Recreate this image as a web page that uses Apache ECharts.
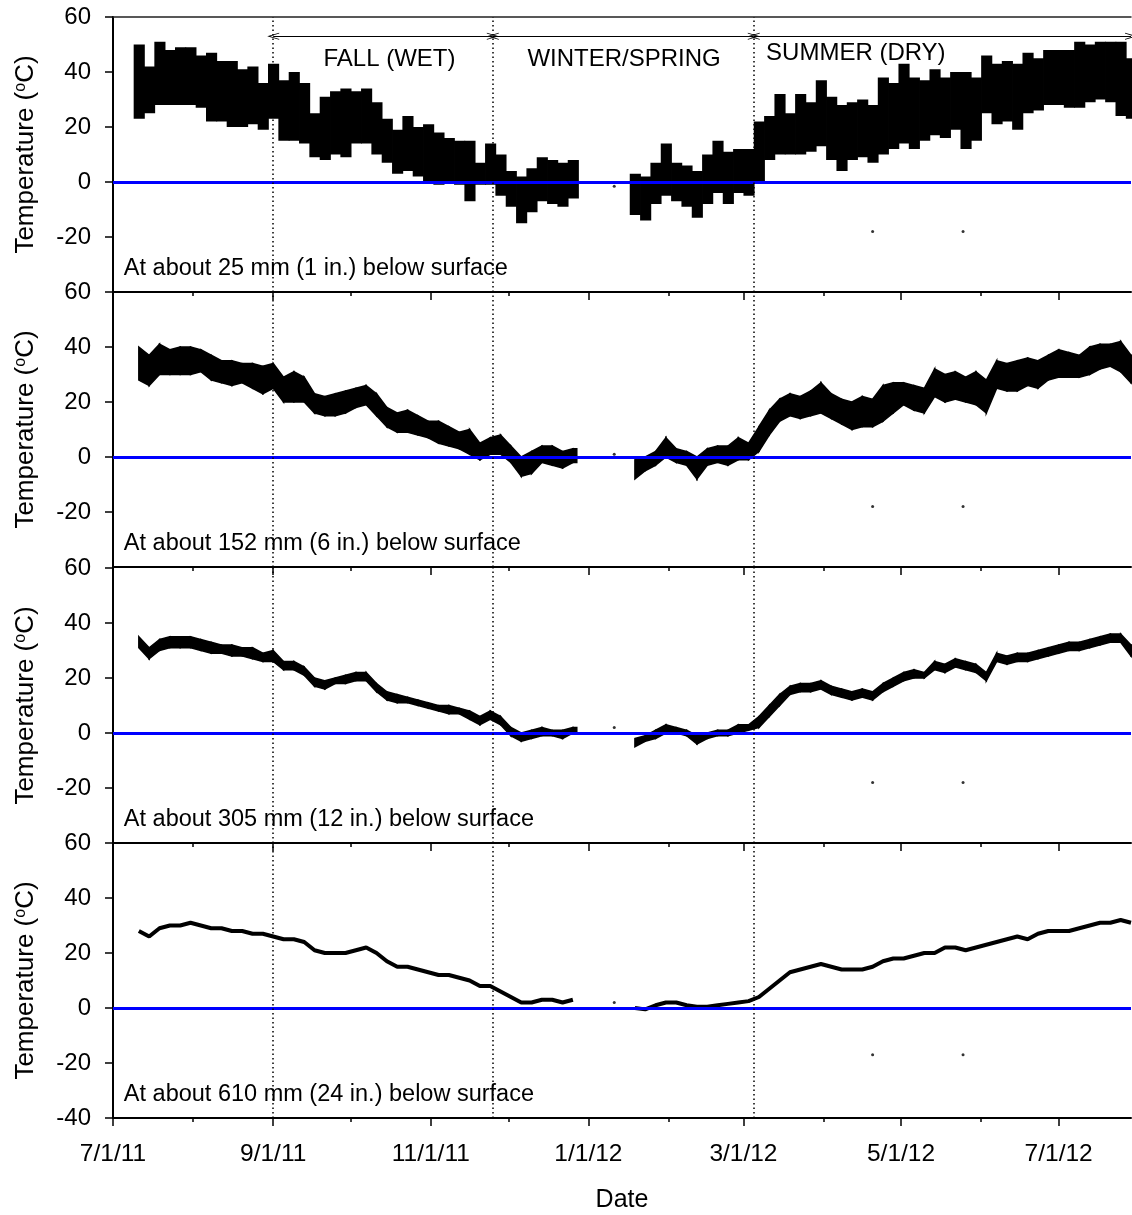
<!DOCTYPE html>
<html>
<head>
<meta charset="utf-8">
<title>Soil temperature</title>
<script src="https://cdn.jsdelivr.net/npm/echarts@6/dist/echarts.min.js"></script>
<style>html,body{margin:0;padding:0;background:#fff;}</style>
</head>
<body>
<div id="main" style="width:1132px;height:1215px;"></div>
<script type="text/javascript">
// days are counted from 7/1/11; samples every 4 days starting 7/11/11
var originDate = '7/1/11';
var sampleStart = 10, sampleStep = 4, sampleCount = 97;
var dayMax = 394;

var majorTicks = ['7/1/11', '9/1/11', '11/1/11', '1/1/12', '3/1/12', '5/1/12', '7/1/12'];
var minorTicks = ['8/1/11', '10/1/11', '12/1/11', '2/1/12', '4/1/12', '6/1/12'];
var seasonBounds = ['9/1/11', '11/25/11', '3/5/12'];
var seasonNames = ['FALL (WET)', 'WINTER/SPRING', 'SUMMER (DRY)'];
var depthLabels = [
	'At about 25 mm (1 in.) below surface',
	'At about 152 mm (6 in.) below surface',
	'At about 305 mm (12 in.) below surface',
	'At about 610 mm (24 in.) below surface'
];

// 25 mm: daily high / low envelope
var p1High = [50,42,51,48,49,49,46,47,44,44,41,42,36,43,37,40,36,25,31,33,34,33,34,29,23,19,24,20,21,18,16,15,15,7,14,10,4,2,5,9,8,7,8,
	null,null,null,null,null,
	3,2,7,14,7,6,4,10,15,11,12,12,22,24,32,25,32,29,37,31,28,29,30,28,38,36,43,38,37,41,38,40,40,38,46,43,44,43,47,45,48,48,48,51,50,51,51,51,45];
var p1Low = [23,25,28,28,28,28,27,22,22,20,20,21,19,23,15,15,14,9,8,10,9,14,14,10,7,3,4,2,0,-1,0,-1,-7,-1,-1,-5,-9,-15,-11,-7,-8,-9,-6,
	null,null,null,null,null,
	-12,-14,-8,-5,-7,-9,-13,-8,-4,-8,-4,-5,0,8,10,10,10,11,13,8,4,8,9,7,10,12,14,12,15,17,16,19,12,15,25,21,22,19,25,26,28,28,27,27,29,30,29,24,23];

// 152 mm
var p2High = [40,37,41,39,40,40,39,37,35,35,34,34,33,34,29,31,29,23,22,23,24,25,26,23,18,16,17,15,13,13,11,9,10,5,7,8,4,0,2,4,4,2,3,
	null,null,null,null,null,
	-1,0,2,7,3,2,0,3,4,4,7,5,11,17,21,23,22,24,27,23,21,20,22,21,26,27,27,26,25,32,30,31,29,31,28,35,34,35,36,35,37,39,38,37,40,41,41,42,37];
var p2Low = [28,26,30,30,30,30,31,28,27,26,27,25,23,25,20,20,20,16,15,15,16,18,19,15,11,9,9,8,7,5,4,3,1,-1,1,1,-2,-7,-6,-2,-3,-4,-2,
	null,null,null,null,null,
	-8,-5,-3,0,-2,-3,-8,-3,-2,-3,-1,-1,2,8,13,15,14,15,16,14,12,10,11,11,13,16,19,17,16,22,20,21,20,19,16,25,24,24,26,25,28,29,29,29,30,32,33,31,27];

// 305 mm
var p3High = [35,31,34,35,35,35,34,33,32,32,31,31,29,30,26,26,24,20,19,20,21,22,22,18,15,14,13,12,11,10,10,9,8,6,8,6,2,0,1,2,1,1,2,
	null,null,null,null,null,
	-2,-1,1,3,2,1,-1,0,1,1,3,3,6,10,14,17,18,18,19,17,16,15,16,15,18,20,22,23,22,26,25,27,26,25,22,29,28,29,29,30,31,32,33,33,34,35,36,36,32];
var p3Low = [31,27,30,31,31,31,30,29,29,28,28,27,26,26,23,23,21,17,16,18,18,19,19,15,12,11,11,10,9,8,7,7,5,3,5,3,-1,-3,-2,-1,-1,-2,0,
	null,null,null,null,null,
	-5,-3,-2,0,0,-1,-4,-2,-1,-1,0,1,2,6,10,14,15,15,16,14,13,12,13,12,15,17,19,20,20,23,22,24,23,22,19,26,25,26,26,27,28,29,30,30,31,32,33,33,28];

// 610 mm
var p4Temp = [28,26,29,30,30,31,30,29,29,28,28,27,27,26,25,25,24,21,20,20,20,21,22,20,17,15,15,14,13,12,12,11,10,8,8,6,4,2,2,3,3,2,3,
	null,null,null,null,null,
	0,-0.5,1,2,2,1,0.5,0.5,1,1.5,2,2.5,4,7,10,13,14,15,16,15,14,14,14,15,17,18,18,19,20,20,22,22,21,22,23,24,25,26,25,27,28,28,28,29,30,31,31,32,31];

// isolated readings
var strayDates = ['1/11/12', '4/20/12', '5/25/12'];
var strayTemps = [
	[-1.5, -18, -18],
	[1, -18, -18],
	[2, -18, -18],
	[2, -17, -17]
];

var font = '"Liberation Sans", Arial, sans-serif';

function dayOf(s) {
	var p = s.split('/');
	var o = originDate.split('/');
	var t0 = Date.UTC(2000 + +o[2], +o[0] - 1, +o[1]);
	return Math.round((Date.UTC(2000 + +p[2], +p[0] - 1, +p[1]) - t0) / 864e5);
}

var majorDays = majorTicks.map(dayOf);
var minorDays = minorTicks.map(dayOf);
var boundDays = seasonBounds.map(dayOf);
var strayDays = strayDates.map(dayOf);
var sampleDays = [];
for (var i = 0; i < sampleCount; i++) sampleDays.push(sampleStart + i * sampleStep);

var highs = [p1High, p2High, p3High];
var lows = [p1Low, p2Low, p3Low];

// each item: [day, low, high, nextDay, nextLow, nextHigh]
function bandData(lo, hi) {
	var out = [];
	sampleDays.forEach(function (d, i) {
		if (lo[i] == null || hi[i] == null) return;
		var j = i + 1;
		if (j < sampleDays.length && lo[j] != null && hi[j] != null) {
			out.push([d, lo[i], hi[i], sampleDays[j], lo[j], hi[j]]);
		} else {
			out.push([d, lo[i], hi[i], d + 1.5, lo[i], hi[i]]);
		}
	});
	return out;
}

// surface sensor: blocky spikes
function blockItem(params, api) {
	var d = api.value(0);
	var a = api.coord([d - sampleStep / 2, api.value(2)]);
	var b = api.coord([d + sampleStep / 2, api.value(1)]);
	return {
		type: 'rect',
		shape: { x: a[0], y: a[1], width: b[0] - a[0] + 0.8, height: Math.max(b[1] - a[1], 2) },
		style: { fill: '#000' }
	};
}

// deeper sensors: continuous band
function polyItem(params, api) {
	var pts = [
		api.coord([api.value(0), api.value(2)]),
		api.coord([api.value(3), api.value(5)]),
		api.coord([api.value(3), api.value(4)]),
		api.coord([api.value(0), api.value(1)])
	];
	return {
		type: 'polygon',
		shape: { points: pts },
		style: { fill: '#000', stroke: '#000', lineWidth: 1.5 }
	};
}

var arrowSym = 'path://M5,0 L10,12 L9,12 L5,3 L1,12 L0,12 Z';
var panelTops = [17, 292, 568, 843];
var grids = [], xAxes = [], yAxes = [], series = [];

for (var p = 0; p < 4; p++) {
	grids.push({ left: 113, right: 1, top: panelTops[p], height: 275 });

	var majorIdx = xAxes.length;
	xAxes.push({
		type: 'value', gridIndex: p, min: 0, max: dayMax, position: 'bottom',
		axisLine: { show: true, onZero: false, lineStyle: { color: '#000', width: 2 } },
		axisTick: { show: true, customValues: majorDays, length: 8, lineStyle: { color: '#000', width: 1.5 } },
		axisLabel: {
			show: p === 3, customValues: majorDays, fontSize: 24.5, color: '#000', fontFamily: font, margin: 24,
			formatter: function (v) { return majorTicks[majorDays.indexOf(v)] || ''; }
		},
		splitLine: { show: false },
		name: p === 3 ? 'Date' : '', nameLocation: 'middle', nameGap: 70,
		nameTextStyle: { fontSize: 25, color: '#000', fontFamily: font }
	});
	xAxes.push({
		type: 'value', gridIndex: p, min: 0, max: dayMax, position: 'bottom',
		axisLine: { show: false, onZero: false },
		axisTick: { show: true, customValues: minorDays, length: 4, lineStyle: { color: '#000', width: 1.5 } },
		axisLabel: { show: false },
		splitLine: { show: false }
	});
	if (p === 0) {
		xAxes.push({
			type: 'value', gridIndex: 0, min: 0, max: dayMax, position: 'top',
			axisLine: { show: true, onZero: false, lineStyle: { color: '#222', width: 1.5 } },
			axisTick: { show: false }, axisLabel: { show: false }, splitLine: { show: false }
		});
	}

	yAxes.push({
		type: 'value', gridIndex: p, min: -40, max: 60, interval: 20,
		axisLine: { show: true, onZero: false, lineStyle: { color: '#000', width: 2 } },
		axisTick: { show: true, length: 8, lineStyle: { color: '#000', width: 1.5 } },
		axisLabel: { fontSize: 24, color: '#000', fontFamily: font, margin: 22, showMinLabel: p === 3 },
		splitLine: { show: false },
		name: 'Temperature ({sup|o}C)', nameLocation: 'middle', nameGap: 74, nameRotate: 90,
		nameTextStyle: {
			fontSize: 26, color: '#000', fontFamily: font,
			rich: { sup: { fontSize: 16, color: '#000', fontFamily: font, verticalAlign: 'top' } }
		}
	});

	if (p < 3) {
		series.push({
			type: 'custom', xAxisIndex: majorIdx, yAxisIndex: p, z: 2, silent: true, animation: false,
			renderItem: p === 0 ? blockItem : polyItem, encode: { x: 0, y: [1, 2] },
			data: bandData(lows[p], highs[p])
		});
	} else {
		series.push({
			type: 'line', xAxisIndex: majorIdx, yAxisIndex: p, z: 2, silent: true, animation: false,
			showSymbol: false, connectNulls: false,
			lineStyle: { color: '#000', width: 4 },
			data: sampleDays.map(function (d, i) { return [d, p4Temp[i]]; })
		});
	}

	var lines = [{ yAxis: 0, lineStyle: { color: '#0000ff', width: 3, type: 'solid' } }];
	boundDays.forEach(function (d) {
		lines.push({ xAxis: d, lineStyle: { color: '#000', width: 1.5, type: [1.5, 3] } });
	});
	var marks = [{ name: depthLabels[p], coord: [4, -31.5], label: { position: 'right', distance: 0 } }];
	if (p === 0) {
		var ends = boundDays.concat([dayMax]);
		for (var k = 0; k < 3; k++) {
			lines.push([
				{ coord: [ends[k], 53], symbol: arrowSym, symbolSize: [7, 12], lineStyle: { color: '#000', width: 1.2, type: 'solid' } },
				{ coord: [ends[k + 1], 53], symbol: arrowSym, symbolSize: [7, 12] }
			]);
		}
		marks.push({ name: seasonNames[0], coord: [107, 44.5], label: { position: 'inside', fontSize: 24 } });
		marks.push({ name: seasonNames[1], coord: [197.8, 44.5], label: { position: 'inside', fontSize: 24 } });
		marks.push({ name: seasonNames[2], coord: [287.5, 46.7], label: { position: 'inside', fontSize: 24 } });
	}

	series.push({
		type: 'scatter', xAxisIndex: majorIdx, yAxisIndex: p, z: 4, silent: true, animation: false,
		symbolSize: 3, itemStyle: { color: '#000' },
		data: strayDays.map(function (d, i) { return [d, strayTemps[p][i]]; }),
		markLine: { silent: true, animation: false, symbol: 'none', label: { show: false }, data: lines },
		markPoint: {
			silent: true, animation: false, symbol: 'circle', symbolSize: 1,
			itemStyle: { color: 'rgba(0,0,0,0)' },
			label: { show: true, color: '#000', fontSize: 23.5, fontFamily: font, formatter: '{b}' },
			data: marks
		}
	});
}

var myChart = echarts.init(document.getElementById('main'));
myChart.setOption({
	animation: false,
	backgroundColor: '#fff',
	textStyle: { fontFamily: font },
	grid: grids,
	xAxis: xAxes,
	yAxis: yAxes,
	series: series
});
</script>
</body>
</html>
